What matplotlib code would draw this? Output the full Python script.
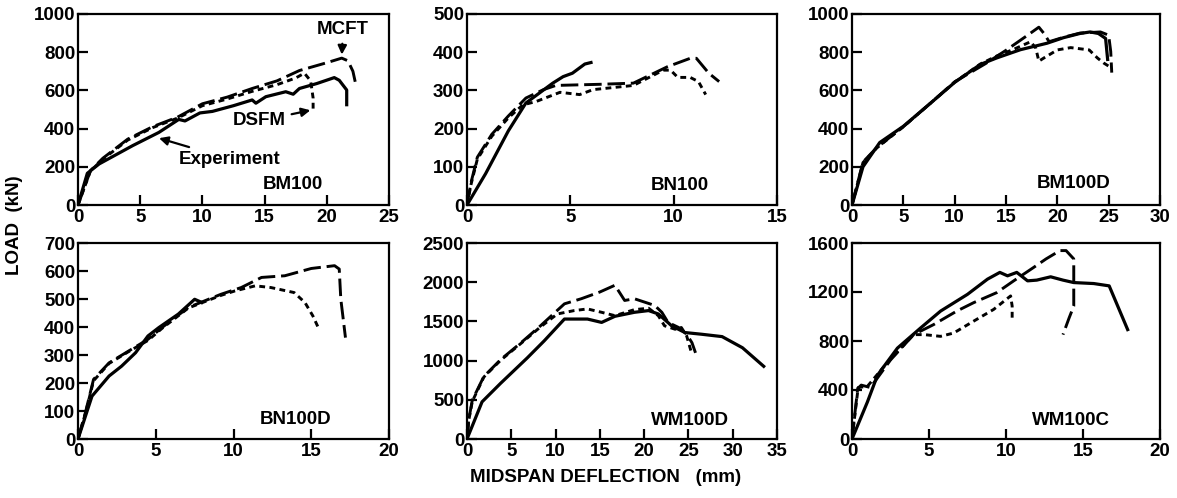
import matplotlib
matplotlib.use("Agg")
import matplotlib.pyplot as plt

plt.rcParams['font.family'] = ['Liberation Sans', 'DejaVu Sans']
plt.rcParams['font.weight'] = 'bold'

# ---- BM100 ----
bm100_exp_x = [0, 0.75, 1.7, 4.4, 6.5, 8.1, 8.6, 9.8, 10.8, 12.5, 14.0, 14.3, 15.1, 16.7, 17.3, 17.8, 19.2, 20.6, 21.0, 21.6, 21.6]
bm100_exp_y = [0, 166, 215, 311, 380, 448, 440, 482, 490, 520, 550, 533, 567, 593, 580, 610, 636, 667, 653, 602, 525]
bm100_mcft_x = [0, 1.0, 2.0, 4.0, 6.0, 8.0, 10.0, 12.0, 14.0, 16.0, 17.8, 20.0, 21.2, 21.7, 22.1, 22.3]
bm100_mcft_y = [0, 180, 245, 345, 410, 460, 530, 565, 610, 650, 704, 745, 769, 755, 700, 640]
bm100_dsfm_x = [0, 1.0, 2.0, 4.0, 6.0, 8.0, 10.0, 12.0, 14.0, 16.0, 17.5, 18.2, 18.7, 18.9, 18.9]
bm100_dsfm_y = [0, 178, 240, 340, 405, 455, 520, 555, 595, 630, 665, 690, 650, 560, 500]

# ---- BN100 ----
bn100_exp_x = [0, 0.9, 2.0, 2.85, 3.5, 4.15, 4.65, 5.1, 5.7, 6.0]
bn100_exp_y = [0, 82, 194, 267, 293, 319, 336, 345, 369, 373]
bn100_mcft_x = [0, 0.2, 0.5, 1.2, 2.0, 2.85, 3.7, 4.3, 6.45, 8.05, 9.7, 10.8, 11.1, 11.7, 12.2]
bn100_mcft_y = [0, 60, 125, 185, 233, 280, 302, 313, 316, 319, 362, 384, 384, 345, 323]
bn100_dsfm_x = [0, 0.2, 0.5, 1.2, 2.0, 2.7, 3.35, 4.5, 5.45, 6.1, 8.05, 9.5, 9.85, 10.2, 10.8, 11.2, 11.55]
bn100_dsfm_y = [0, 55, 120, 180, 228, 262, 271, 295, 289, 302, 313, 353, 353, 334, 334, 323, 289]

# ---- BM100D ----
bm100d_exp_x = [0, 1.07, 2.7, 5.0, 7.6, 10.0, 12.5, 14.1, 16.4, 19.0, 20.6, 22.2, 23.2, 24.0, 24.7, 24.9]
bm100d_exp_y = [0, 200, 327, 412, 531, 642, 736, 770, 813, 847, 876, 898, 906, 898, 872, 762]
bm100d_mcft_x = [0, 1.07, 2.4, 5.0, 7.6, 10.0, 13.0, 15.0, 17.0, 18.2, 18.7, 19.2, 20.6, 22.2, 24.2, 25.0, 25.2, 25.3]
bm100d_mcft_y = [0, 225, 300, 410, 531, 645, 740, 810, 885, 931, 898, 855, 878, 900, 906, 889, 804, 693]
bm100d_dsfm_x = [0, 1.07, 2.4, 5.0, 7.6, 10.0, 12.5, 14.1, 15.7, 17.4, 17.9, 18.2, 18.7, 20.0, 21.3, 23.1, 23.9, 24.5, 25.0, 25.3]
bm100d_dsfm_y = [0, 222, 298, 410, 531, 643, 738, 780, 814, 855, 821, 753, 770, 812, 824, 812, 770, 744, 727, 719]

# ---- BN100D ----
bn100d_exp_x = [0, 0.9, 2.0, 2.8, 3.7, 4.5, 5.2, 6.45, 7.5, 7.95]
bn100d_exp_y = [0, 153, 225, 260, 308, 368, 398, 446, 499, 488]
bn100d_mcft_x = [0, 0.47, 1.0, 2.0, 3.25, 4.5, 5.4, 7.1, 9.2, 10.5, 11.8, 13.3, 15.0, 16.5, 16.8, 16.9, 17.2]
bn100d_mcft_y = [0, 93, 213, 272, 314, 356, 398, 470, 517, 541, 577, 583, 609, 619, 607, 500, 362]
bn100d_dsfm_x = [0, 0.47, 1.0, 2.0, 3.25, 4.5, 5.4, 7.1, 9.2, 10.1, 11.4, 12.4, 13.9, 14.6, 15.1, 15.5]
bn100d_dsfm_y = [0, 90, 208, 270, 312, 352, 395, 468, 513, 529, 547, 541, 523, 487, 440, 392]

# ---- WM100D ----
wm100d_exp_x = [0, 1.7, 3.8, 6.8, 8.7, 11.0, 13.6, 15.2, 16.7, 18.9, 20.5, 21.6, 23.1, 24.6, 26.5, 28.8, 31.1, 33.5]
wm100d_exp_y = [0, 474, 711, 1034, 1250, 1530, 1530, 1487, 1565, 1616, 1638, 1595, 1444, 1358, 1336, 1306, 1164, 927]
wm100d_mcft_x = [0, 0.2, 0.6, 1.9, 3.8, 6.1, 8.3, 11.0, 12.9, 15.0, 16.7, 17.8, 18.9, 21.2, 22.0, 22.7, 23.9, 24.8, 25.4, 25.8]
wm100d_mcft_y = [0, 250, 496, 797, 1013, 1228, 1444, 1724, 1789, 1875, 1961, 1767, 1789, 1703, 1616, 1487, 1422, 1336, 1228, 1099]
wm100d_dsfm_x = [0, 0.2, 0.6, 1.9, 3.8, 6.1, 8.3, 10.2, 12.1, 13.6, 15.2, 16.7, 18.9, 20.5, 21.6, 22.3, 23.5, 24.2, 24.8, 25.4]
wm100d_dsfm_y = [0, 240, 480, 790, 1005, 1220, 1430, 1595, 1638, 1659, 1616, 1573, 1650, 1668, 1573, 1444, 1400, 1422, 1315, 1078]

# ---- WM100C ----
wm100c_exp_x = [0, 1.0, 1.66, 2.95, 4.46, 5.75, 7.5, 8.8, 9.6, 10.1, 10.7, 11.4, 12.0, 12.9, 13.7, 14.4, 15.7, 16.7, 17.9]
wm100c_exp_y = [0, 302, 522, 742, 907, 1044, 1181, 1305, 1360, 1332, 1360, 1291, 1297, 1324, 1297, 1277, 1269, 1250, 893]
wm100c_mcft_x = [0, 0.37, 0.6, 1.2, 2.5, 4.0, 5.3, 6.8, 7.9, 9.4, 10.5, 11.8, 12.6, 13.5, 13.9, 14.4, 14.4, 14.1, 13.7]
wm100c_mcft_y = [0, 412, 440, 420, 645, 852, 934, 1044, 1113, 1195, 1291, 1401, 1470, 1538, 1538, 1470, 1085, 989, 852]
wm100c_dsfm_x = [0, 0.4, 1.0, 2.0, 3.0, 4.0, 4.7, 5.75, 6.6, 7.9, 9.2, 10.3, 10.4, 10.4]
wm100c_dsfm_y = [0, 420, 430, 580, 720, 852, 852, 838, 865, 962, 1058, 1168, 1085, 989]

panel_names = ['BM100', 'BN100', 'BM100D', 'BN100D', 'WM100D', 'WM100C']
x_limits = [25, 15, 30, 20, 35, 20]
x_steps = [5, 5, 5, 5, 5, 5]
y_limits = [1000, 500, 1000, 700, 2500, 1600]
y_steps = [200, 100, 200, 100, 500, 400]
label_pos = [(0.69, 0.106), (0.687, 0.104), (0.72, 0.114),
             (0.70, 0.099), (0.72, 0.095), (0.71, 0.094)]

curves = [
    (bm100_exp_x, bm100_exp_y, bm100_mcft_x, bm100_mcft_y, bm100_dsfm_x, bm100_dsfm_y),
    (bn100_exp_x, bn100_exp_y, bn100_mcft_x, bn100_mcft_y, bn100_dsfm_x, bn100_dsfm_y),
    (bm100d_exp_x, bm100d_exp_y, bm100d_mcft_x, bm100d_mcft_y, bm100d_dsfm_x, bm100d_dsfm_y),
    (bn100d_exp_x, bn100d_exp_y, bn100d_mcft_x, bn100d_mcft_y, bn100d_dsfm_x, bn100d_dsfm_y),
    (wm100d_exp_x, wm100d_exp_y, wm100d_mcft_x, wm100d_mcft_y, wm100d_dsfm_x, wm100d_dsfm_y),
    (wm100c_exp_x, wm100c_exp_y, wm100c_mcft_x, wm100c_mcft_y, wm100c_dsfm_x, wm100c_dsfm_y),
]

W, H = 1177, 498
fig = plt.figure(figsize=(W / 100, H / 100), dpi=100)

col_left = [78, 467, 852]
col_w = [311, 310, 308]
row_top = [14, 243]
row_h = [191, 196]
fs = 13.5

axes = []
for i, name in enumerate(panel_names):
    r, c = divmod(i, 3)
    ax = fig.add_axes([col_left[c] / W, 1 - (row_top[r] + row_h[r]) / H,
                       col_w[c] / W, row_h[r] / H])
    ex, ey, mx, my, dx, dy = curves[i]
    ax.plot(ex, ey, color='black', lw=2.3, solid_joinstyle='round')
    ax.plot(mx, my, color='black', lw=2.1, dashes=(6, 2))
    ax.plot(dx, dy, color='black', lw=2.1, dashes=(2, 1.5))
    ax.set_xlim(0, x_limits[i])
    ax.set_ylim(0, y_limits[i])
    ax.set_xticks(range(0, x_limits[i] + 1, x_steps[i]))
    ax.set_yticks(range(0, y_limits[i] + 1, y_steps[i]))
    ax.tick_params(direction='in', length=7, width=1.6, labelsize=fs, pad=2)
    ax.tick_params(axis='x', pad=3)
    for lab in ax.get_xticklabels() + ax.get_yticklabels():
        lab.set_fontweight('bold')
    for s in ax.spines.values():
        s.set_linewidth(1.6)
    ax.text(label_pos[i][0], label_pos[i][1], name, transform=ax.transAxes,
            ha='center', va='center', fontsize=fs, fontweight='bold')
    axes.append(ax)

# annotations on BM100
ax0 = axes[0]
arrow = dict(arrowstyle='-|>', color='black', lw=1.6, mutation_scale=13)
ax0.annotate('MCFT', xy=(21.2, 773), xytext=(21.3, 918), ha='center', va='center',
             fontsize=fs, fontweight='bold', arrowprops=arrow)
ax0.annotate('DSFM', xy=(18.9, 499), xytext=(14.6, 440), ha='center', va='center',
             fontsize=fs, fontweight='bold', arrowprops=arrow)
ax0.annotate('Experiment', xy=(6.3, 354), xytext=(12.2, 240), ha='center', va='center',
             fontsize=fs, fontweight='bold', arrowprops=arrow)

fig.text(15 / W, 1 - 225 / H, 'LOAD  (kN)', rotation=90, ha='center', va='center',
         fontsize=fs, fontweight='bold')
fig.text(606 / W, 1 - 477 / H, 'MIDSPAN DEFLECTION   (mm)', ha='center', va='center',
         fontsize=fs, fontweight='bold')

fig.savefig('out.png', dpi=100, facecolor='white')
